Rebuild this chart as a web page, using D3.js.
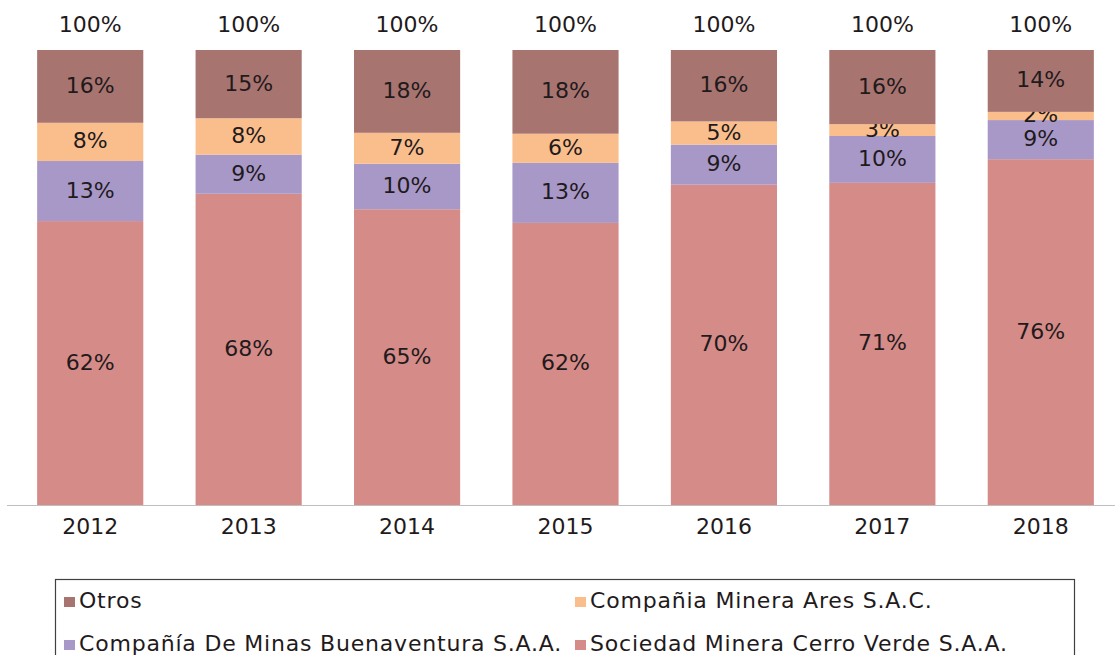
<!DOCTYPE html>
<html>
<head>
<meta charset="utf-8">
<script src="https://cdn.jsdelivr.net/npm/d3@7"></script>
<style>
  html, body { margin: 0; padding: 0; background: #ffffff; }
  svg { display: block; font-family: "DejaVu Sans", sans-serif; }
</style>
</head>
<body>
<svg id="chart" width="1115" height="655"></svg>
<script>
// ---- data ----
const years = ["2012", "2013", "2014", "2015", "2016", "2017", "2018"];
const seriesNames = [
  "Sociedad Minera Cerro Verde S.A.A.",
  "Compañía De Minas Buenaventura S.A.A.",
  "Compañia Minera Ares S.A.C.",
  "Otros"
];
const cerroVerde   = [62.4, 68.4, 65.0, 62.0, 70.4, 70.8, 76.0];
const buenaventura = [13.2, 8.6, 10.0, 13.2, 8.8, 10.3, 8.6];
const ares         = [8.4, 8.0, 6.8, 6.4, 5.1, 2.6, 1.8];
const otros        = [16.0, 15.0, 18.2, 18.4, 15.7, 16.3, 13.6];
const totalLabels  = ["100%", "100%", "100%", "100%", "100%", "100%", "100%"];
const colors = ["#d58b88", "#a898c8", "#fabe8c", "#a87470"];

// ---- build table ----
const seriesVals = [cerroVerde, buenaventura, ares, otros];
const table = years.map((y, i) => {
  const row = { year: y };
  seriesNames.forEach((s, k) => row[s] = seriesVals[k][i]);
  return row;
});
const stack = d3.stack().keys(seriesNames)(table);

const svg = d3.select("#chart");
const x = d3.scaleBand().domain(years).range([11, 1120]).paddingInner(0.33).paddingOuter(0.165);
const y = d3.scaleLinear().domain([0, 100]).range([505, 50]);

const FS = "22px";

// bars
const layers = svg.append("g").selectAll("g").data(stack).join("g")
  .attr("fill", (d, i) => colors[i]);
layers.selectAll("rect").data(d => d).join("rect")
  .attr("x", d => x(d.data.year))
  .attr("width", x.bandwidth())
  .attr("y", d => y(d[1]))
  .attr("height", d => y(d[0]) - y(d[1]));

// segment labels
layers.selectAll("text").data(d => d).join("text")
  .attr("x", d => x(d.data.year) + x.bandwidth() / 2)
  .attr("y", d => (y(d[0]) + y(d[1])) / 2 - 1)
  .attr("text-anchor", "middle")
  .attr("dominant-baseline", "central")
  .attr("fill", "#1f1a1c")
  .style("font-size", FS)
  .text(d => Math.round(d[1] - d[0]) + "%");

// totals
svg.append("g").selectAll("text").data(years).join("text")
  .attr("x", d => x(d) + x.bandwidth() / 2)
  .attr("y", 24)
  .attr("text-anchor", "middle")
  .attr("dominant-baseline", "central")
  .attr("fill", "#1f1a1c")
  .style("font-size", FS)
  .text((d, i) => totalLabels[i]);

// x axis
const axis = svg.append("g").attr("transform", "translate(0,505)")
  .call(d3.axisBottom(x).tickSize(0).tickPadding(13));
axis.select(".domain").remove();
axis.append("line").attr("x1", 7).attr("x2", 1115).attr("y1", 0.5).attr("y2", 0.5)
  .attr("stroke", "#bfbfbf").attr("stroke-width", 1.2);
axis.selectAll(".tick text")
  .attr("fill", "#1f1a1c")
  .style("font-size", FS)
  .style("font-family", "'DejaVu Sans', sans-serif");

// legend
const lg = svg.append("g");
lg.append("rect").attr("x", 55.5).attr("y", 579.5).attr("width", 1019).attr("height", 90)
  .attr("fill", "none").attr("stroke", "#404040").attr("stroke-width", 1.2);
const legendOrder = [3, 2, 1, 0];
const legendPos = [[64, 600], [575, 600], [64, 643], [575, 643]];
legendOrder.forEach((k, j) => {
  const [lx, ly] = legendPos[j];
  lg.append("rect").attr("x", lx).attr("y", ly + 2 - 5).attr("width", 11).attr("height", 10)
    .attr("fill", colors[k]);
  lg.append("text").attr("x", lx + 15).attr("y", ly + 8)
    .attr("fill", "#1f1a1c")
    .style("font-size", FS)
    .style("letter-spacing", "0.8px")
    .text(seriesNames[k]);
});
</script>
</body>
</html>
